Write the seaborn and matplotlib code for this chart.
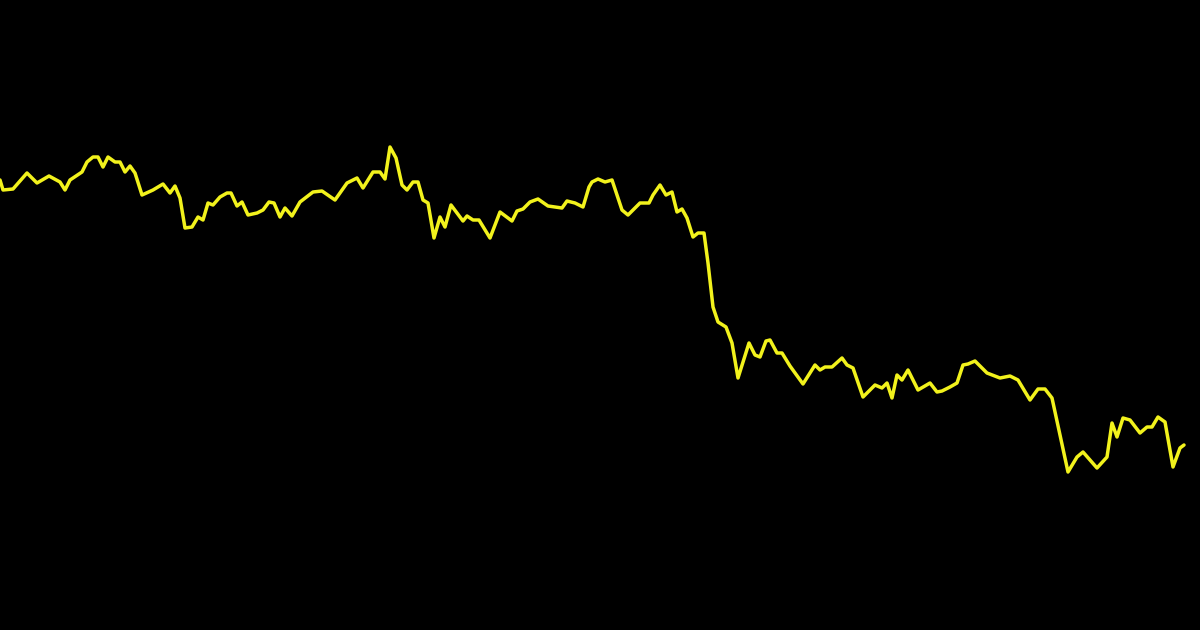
import pandas as pd
import seaborn as sns
import matplotlib.pyplot as plt

# sample positions (trading days) and closing values
days = [0, 3, 13, 27, 37, 49, 60, 65, 70, 82, 87, 93, 98, 103, 108, 115, 120, 125, 130, 135,
        142, 153, 163, 170, 175, 180, 185, 192, 198, 203, 208, 213, 220, 227, 231, 237, 242, 248, 257, 263,
        269, 274, 280, 285, 292, 300, 313, 322, 335, 347, 357, 363, 373, 380, 385, 390, 396, 402, 407, 413,
        418, 423, 428, 434, 440, 445, 451, 457, 463, 467, 473, 479, 490, 500, 512, 517, 523, 530, 538, 548,
        562, 567, 575, 583, 589, 592, 598, 605, 612, 622, 628, 640, 649, 653, 660, 666, 672, 677, 682, 687,
        693, 698, 704, 708, 713, 718, 726, 732, 738, 743, 749, 755, 760, 766, 770, 777, 782, 790, 803, 815,
        820, 825, 832, 842, 847, 853, 863, 875, 882, 887, 892, 897, 902, 908, 918, 930, 937, 942, 950, 957,
        963, 968, 975, 987, 1000, 1010, 1018, 1030, 1038, 1045, 1052, 1068, 1077, 1083, 1097, 1107, 1112, 1117, 1123, 1130,
        1140, 1147, 1152, 1158, 1165, 1173, 1180, 1184]
prices = [52.0, 51.0, 51.1, 52.7, 51.7, 52.4, 51.8, 51.0, 52.0, 52.8, 53.8, 54.3, 54.3, 53.3, 54.3, 53.8, 53.8, 52.8, 53.4, 52.7,
          50.5, 51.0, 51.6, 50.7, 51.4, 50.2, 47.2, 47.3, 48.3, 48.0, 49.7, 49.5, 50.3, 50.7, 50.7, 49.4, 49.8, 48.5, 48.7, 49.0,
          49.8, 49.7, 48.3, 49.2, 48.4, 49.8, 50.8, 50.9, 50.0, 51.7, 52.2, 51.2, 52.8, 52.8, 52.1, 55.3, 54.2, 51.5, 51.0, 51.8,
          51.8, 50.0, 49.7, 46.2, 48.3, 47.3, 49.5, 48.7, 47.9, 48.4, 48.0, 48.0, 46.2, 48.8, 47.9, 48.9, 49.1, 49.8, 50.1, 49.4,
          49.2, 49.9, 49.7, 49.3, 51.3, 51.8, 52.1, 51.8, 52.0, 49.0, 48.5, 49.7, 49.7, 50.5, 51.5, 50.5, 50.8, 48.8, 49.1, 48.2,
          46.3, 46.7, 46.7, 43.7, 39.3, 37.8, 37.3, 35.7, 32.2, 33.8, 35.7, 34.5, 34.3, 35.9, 36.0, 34.7, 34.7, 33.4, 31.6, 33.5,
          33.0, 33.3, 33.3, 34.2, 33.5, 33.2, 30.3, 31.5, 31.2, 31.7, 30.2, 32.5, 32.0, 33.0, 31.0, 31.7, 30.8, 30.9, 31.3, 31.7,
          33.5, 33.6, 33.9, 32.7, 32.2, 32.4, 32.0, 30.0, 31.1, 31.1, 30.2, 22.8, 24.3, 24.8, 23.2, 24.3, 27.7, 26.3, 28.2, 28.0,
          26.7, 27.3, 27.3, 28.3, 27.8, 23.3, 25.2, 25.5]

df = pd.DataFrame({'day': days, 'price': prices})

fig = plt.figure(figsize=(12, 6.3), dpi=100, facecolor='black')
ax = fig.add_axes([0, 0, 1, 1])
ax.set_facecolor('black')

sns.lineplot(data=df, x='day', y='price', ax=ax, color='#f2f21c', linewidth=2.5,
             solid_joinstyle='round', solid_capstyle='round')

ax.set_xlim(0, 1200)
ax.set_ylim(7, 70)
ax.axis('off')

plt.savefig('out.png', dpi=100, facecolor='black')
